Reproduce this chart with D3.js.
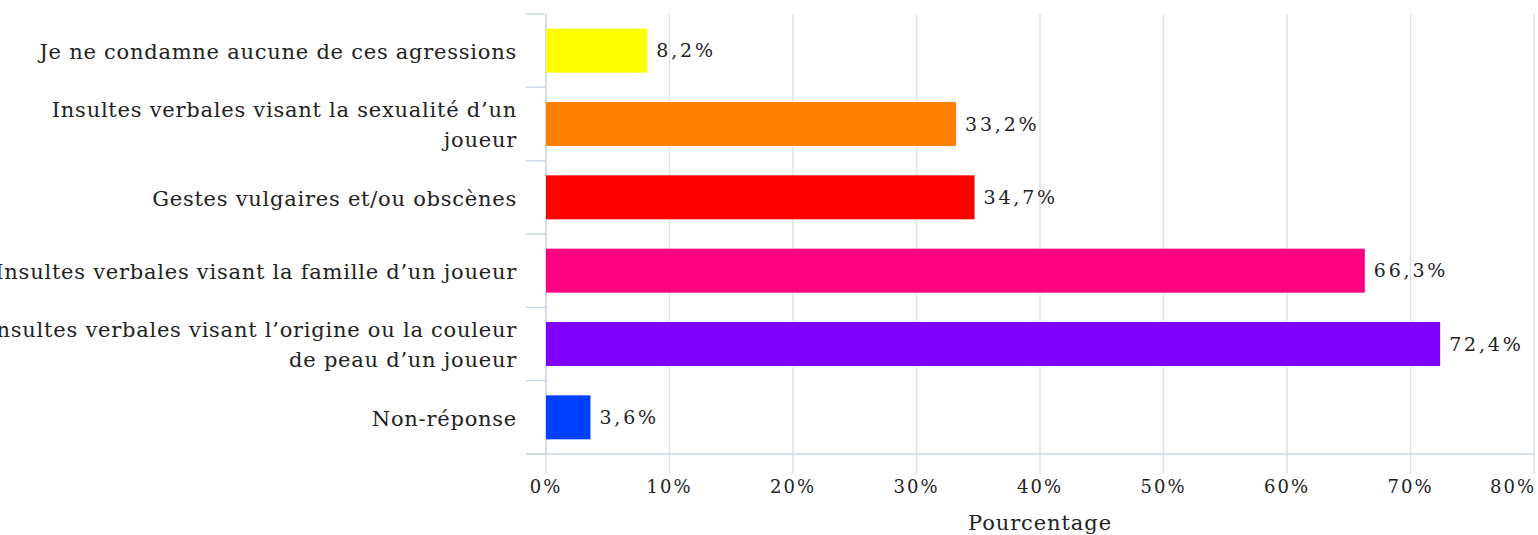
<!DOCTYPE html>
<html lang="fr">
<head>
<meta charset="UTF-8">
<title>Agressions condamnées</title>
<style>
  body { margin: 0; padding: 0; background: #fff; overflow: hidden; }
  svg { display: block; }
  .cat { font-family: 'DejaVu Serif', serif; font-size: 21px; letter-spacing: 0.75px; fill: #222; }
  .val { font-family: 'DejaVu Serif', serif; font-size: 19px; letter-spacing: 2.8px; fill: #222; font-variant-numeric: oldstyle-nums; }
  .tick-label { font-family: 'DejaVu Serif', serif; font-size: 18px; letter-spacing: 2px; fill: #222; font-variant-numeric: oldstyle-nums; }
  .axis-title { font-family: 'DejaVu Serif', serif; font-size: 21px; letter-spacing: 0.9px; fill: #222; }
</style>
</head>
<body>
<div id="chart"></div>
<script src="https://d3js.org/d3.v7.min.js"></script>
<script>
// data
const categories = [
  "Je ne condamne aucune de ces agressions",
  "Insultes verbales visant la sexualité d’un\njoueur",
  "Gestes vulgaires et/ou obscènes",
  "Insultes verbales visant la famille d’un joueur",
  "Insultes verbales visant l’origine ou la couleur\nde peau d’un joueur",
  "Non-réponse"
];
const values = [8.2, 33.2, 34.7, 66.3, 72.4, 3.6];
const colors = ["#ffff00", "#ff8000", "#ff0000", "#ff0080", "#8000ff", "#0040ff"];
const xTicks = [0, 10, 20, 30, 40, 50, 60, 70, 80];
const axisTitle = "Pourcentage";

const width = 1538, height = 535;
const margin = { top: 14, right: 4, bottom: 81, left: 546 };

const svg = d3.select("#chart").append("svg")
    .attr("width", width)
    .attr("height", height);

const x = d3.scaleLinear()
    .domain([0, 80])
    .range([margin.left, width - margin.right]);

const y = d3.scaleBand()
    .domain(categories)
    .range([margin.top, height - margin.bottom])
    .paddingInner(0.4)
    .paddingOuter(0.2);

const fmt = v => d3.format(".1f")(v).replace(".", ",") + "%";
const gridColor = "#dfe2ee";
const axisColor = "#ccd6eb";
const plotBottom = height - margin.bottom;

// vertical grid lines (extend below axis as ticks)
svg.append("g")
  .selectAll("line")
  .data(xTicks)
  .join("line")
    .attr("x1", d => x(d)).attr("x2", d => x(d))
    .attr("y1", margin.top).attr("y2", plotBottom + 20)
    .attr("stroke", gridColor)
    .attr("stroke-width", 1.5);

// category axis line + ticks at band boundaries
const bounds = categories.map(c => y(c) - y.step() * y.paddingInner() / 2);
bounds.push(plotBottom);
svg.append("line")
    .attr("x1", margin.left).attr("x2", margin.left)
    .attr("y1", margin.top).attr("y2", plotBottom)
    .attr("stroke", axisColor).attr("stroke-width", 1.5);
svg.append("g")
  .selectAll("line")
  .data(bounds)
  .join("line")
    .attr("x1", margin.left - 20).attr("x2", margin.left)
    .attr("y1", d => d).attr("y2", d => d)
    .attr("stroke", axisColor).attr("stroke-width", 1.5);

// bottom axis line
svg.append("line")
    .attr("x1", margin.left - 20).attr("x2", width - margin.right)
    .attr("y1", plotBottom).attr("y2", plotBottom)
    .attr("stroke", axisColor).attr("stroke-width", 1.5);

// bars
svg.append("g")
  .selectAll("rect")
  .data(values)
  .join("rect")
    .attr("x", x(0))
    .attr("y", (d, i) => y(categories[i]))
    .attr("width", d => x(d) - x(0))
    .attr("height", y.bandwidth())
    .attr("fill", (d, i) => colors[i]);

// value labels
svg.append("g")
  .selectAll("text")
  .data(values)
  .join("text")
    .attr("class", "val")
    .attr("x", d => x(d) + 9)
    .attr("y", (d, i) => y(categories[i]) + y.bandwidth() / 2)
    .attr("dy", "0.35em")
    .text(d => fmt(d));

// category labels
const lineH = 30;
svg.append("g")
  .selectAll("text")
  .data(categories)
  .join("text")
    .attr("class", "cat")
    .attr("text-anchor", "end")
    .attr("x", margin.left - 29)
    .attr("y", d => y(d) + y.bandwidth() / 2)
    .each(function(d) {
      const lines = d.split("\n");
      const off = -(lines.length - 1) * lineH / 2;
      d3.select(this).selectAll("tspan")
        .data(lines)
        .join("tspan")
          .attr("x", margin.left - 29)
          .attr("y", (l, j) => y(d) + y.bandwidth() / 2 + off + j * lineH + 1)
          .attr("dy", "0.35em")
          .text(l => l);
    });

// x tick labels
svg.append("g")
  .selectAll("text")
  .data(xTicks)
  .join("text")
    .attr("class", "tick-label")
    .attr("text-anchor", (d, i) => i === xTicks.length - 1 ? "end" : "middle")
    .attr("x", (d, i) => i === xTicks.length - 1 ? x(d) + 2 : x(d))
    .attr("y", plotBottom + 33)
    .attr("dy", "0.35em")
    .text(d => d + "%");

// axis title
svg.append("text")
    .attr("class", "axis-title")
    .attr("text-anchor", "middle")
    .attr("x", (x(0) + x(80)) / 2)
    .attr("y", plotBottom + 69)
    .attr("dy", "0.35em")
    .text(axisTitle);
</script>
</body>
</html>
